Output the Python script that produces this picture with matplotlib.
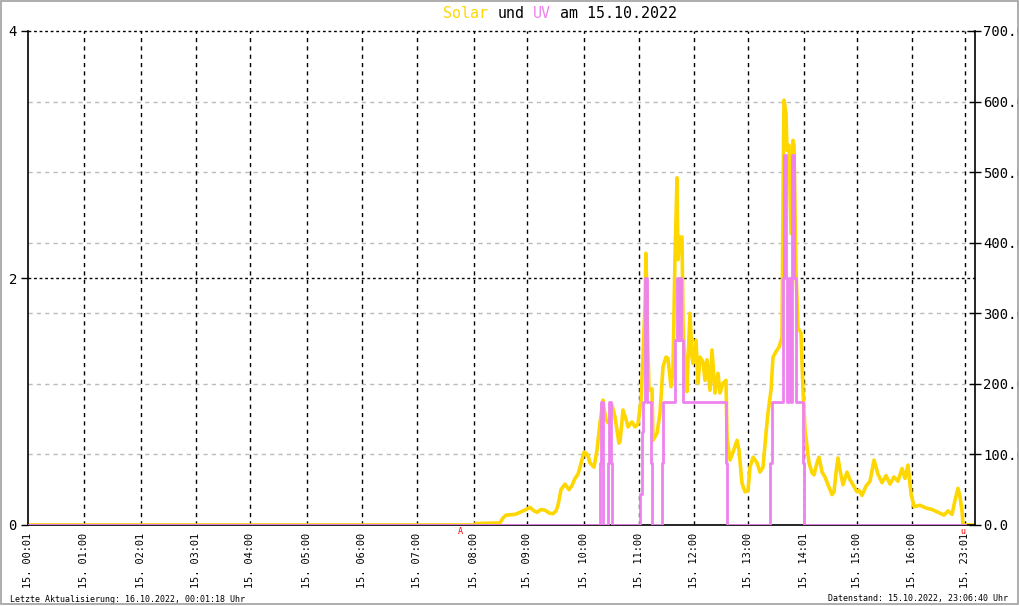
import matplotlib
matplotlib.use("Agg")
import matplotlib.pyplot as plt
from matplotlib.patches import Rectangle

# x = Messwert-Index (Achse ist nicht zeitlinear, Luecke 16-23 Uhr)
tick_idx = [0, 56, 113, 168, 222, 279, 334, 389, 446, 499, 556, 611, 666, 720, 776, 829, 884, 937]
tick_labels = ["15. 00:01", "15. 01:00", "15. 02:01", "15. 03:01", "15. 04:00", "15. 05:00",
               "15. 06:00", "15. 07:00", "15. 08:00", "15. 09:00", "15. 10:00", "15. 11:00",
               "15. 12:00", "15. 13:00", "15. 14:01", "15. 15:00", "15. 16:00", "15. 23:01"]

solar_idx = [0, 446, 448, 472, 475, 478, 487, 492, 498, 502, 506, 509, 513, 517, 521, 525, 528,
             530, 533, 537, 541, 544, 547, 550, 552, 556, 558, 560, 562, 566, 569, 572, 575, 576,
             578, 580, 582, 584, 587, 591, 592, 595, 599, 600, 604, 607, 610, 613, 615, 617, 618,
             619, 621, 624, 625, 629, 632, 635, 638, 640, 643, 645, 647, 649, 650, 652, 654, 655,
             657, 659, 660, 662, 664, 665, 668, 670, 672, 675, 677, 679, 682, 684, 687, 690, 692,
             695, 698, 699, 702, 705, 709, 711, 714, 717, 720, 722, 725, 729, 732, 735, 738, 740,
             743, 745, 749, 751, 754, 755, 756, 758, 759, 761, 763, 765, 766, 768, 770, 773, 775,
             777, 779, 781, 784, 786, 789, 791, 794, 797, 800, 804, 806, 808, 810, 812, 815, 819,
             822, 825, 829, 831, 834, 838, 842, 846, 850, 854, 858, 862, 866, 870, 874, 877, 880,
             883, 886, 892, 898, 904, 910, 916, 920, 924, 927, 930, 932, 934, 935, 947]
solar_wm2 = [0, 0, 2, 3, 10, 14, 15, 18, 22, 25, 20, 18, 22, 21, 17, 16, 20,
             28, 50, 58, 50, 56, 66, 72, 82, 103, 102, 98, 88, 82, 106, 145, 177, 165,
             149, 145, 150, 170, 153, 116, 118, 163, 145, 139, 146, 139, 143, 177, 238, 312, 385,
             300, 191, 193, 120, 130, 159, 224, 238, 236, 196, 220, 380, 492, 376, 408, 408, 286,
             224, 189, 234, 300, 238, 229, 262, 201, 238, 231, 205, 234, 191, 248, 187, 215, 187,
             201, 205, 125, 92, 103, 120, 106, 59, 47, 49, 82, 96, 88, 75, 82, 130, 159,
             191, 238, 248, 252, 266, 463, 602, 583, 531, 538, 413, 545, 538, 361, 279, 272, 191,
             135, 111, 88, 74, 71, 88, 96, 75, 68, 57, 43, 47, 74, 95, 78, 57, 75,
             64, 57, 47, 49, 42, 55, 62, 92, 72, 60, 70, 58, 68, 62, 80, 66, 85,
             45, 26, 28, 24, 22, 18, 14, 20, 15, 35, 52, 40, 20, 0, 0]

uv_idx = [0, 572, 573, 575, 580, 581, 583, 584, 612, 614, 615, 617, 619, 623, 624, 634, 635,
          647, 649, 650, 652, 653, 655, 698, 699, 742, 744, 755, 756, 758, 759, 761, 763, 764,
          766, 768, 775, 776, 937]
uv_val = [0, 0.5, 1.0, 0, 0.5, 1.0, 0.5, 0, 0.25, 0.75, 1.0, 2.0, 1.0, 0.5, 0, 0.5, 1.0,
          1.5, 2.0, 1.5, 2.0, 1.5, 1.0, 0.5, 0, 0.5, 1.0, 2.0, 3.0, 2.0, 1.0, 2.0, 1.0, 3.0,
          2.0, 1.0, 0.5, 0, 0]

solar_col = "#FFD700"
uv_col = "#EE82EE"
mono = "DejaVu Sans Mono"
plt.rcParams["font.family"] = mono

W, H = 1020, 606
fig = plt.figure(figsize=(W / 100, H / 100), dpi=100)
ax2 = fig.add_axes([28 / W, (H - 525) / H, 947 / W, 494 / H])
ax = ax2.twinx()
ax2.yaxis.tick_right()
ax.yaxis.tick_left()
ax.set_zorder(ax2.get_zorder() + 1)
ax.patch.set_visible(False)
ax.xaxis.set_visible(True)
ax2.xaxis.set_visible(False)

ax.set_xlim(0, 947)
ax.set_ylim(0, 4)
ax2.set_ylim(0, 700)

# Gitter
for v in range(100, 700, 100):
    if v != 350:
        ax2.axhline(v, color="#bbbbbb", lw=1, ls=(0, (3, 3)), zorder=0)
for v in [350, 700]:
    ax2.axhline(v, color="black", lw=1, ls=(0, (2, 2)), zorder=0, clip_on=False)
for t in tick_idx[1:]:
    ax2.axvline(t, color="black", lw=1, ls=(0, (3, 3)), zorder=0)

ax2.plot(solar_idx, solar_wm2, color=solar_col, lw=2.6, zorder=2)
ax.step(uv_idx, uv_val, where="post", color=uv_col, lw=2.0, zorder=3)

for s in ["top", "right"]:
    ax.spines[s].set_visible(False)
for s in ["top", "left", "bottom"]:
    ax2.spines[s].set_visible(False)
ax.spines["left"].set_linewidth(1.2)
ax.spines["bottom"].set_linewidth(1.2)
ax2.spines["right"].set_linewidth(1.2)

ax.set_yticks([0, 2, 4], ["0", "2", "4"])
ax.tick_params(axis="y", length=5, width=1, pad=3, labelsize=10)
ax2.set_yticks(range(0, 701, 100), [f"{v:.1f}" for v in range(0, 701, 100)])
ax2.tick_params(axis="y", direction="inout", length=8, width=1, pad=2, labelsize=10)
ax.set_xticks(tick_idx, tick_labels, rotation=90)
ax.tick_params(axis="x", length=0, pad=6, labelsize=7.4)

# Titel
x0 = 443
cw = 9.03
for col, txt, c in [(0, "Solar", solar_col), (6, "und", "black"), (10, "UV", uv_col), (13, "am 15.10.2022", "black")]:
    fig.text((x0 + col * cw) / W, 1 - 13 / H, txt, color=c, fontsize=10.8, ha="left", va="center")

fig.text(10 / W, 1 - 599 / H, "Letzte Aktualisierung: 16.10.2022, 00:01:18 Uhr", fontsize=6, va="center")
fig.text(1008 / W, 1 - 599 / H, "Datenstand: 15.10.2022, 23:06:40 Uhr", fontsize=6, va="center", ha="right")
fig.text(460 / W, 1 - 531 / H, "A", color="red", fontsize=6, ha="center", va="center")
fig.text(963 / W, 1 - 531 / H, "u", color="red", fontsize=6, ha="center", va="center")

# Rahmen
fig.add_artist(Rectangle((1018 / W, 0), 2 / W, 1, transform=fig.transFigure, facecolor="white", edgecolor="none", zorder=20))
fig.add_artist(Rectangle((0.5 / W, 2 / H), 1017.5 / W, (H - 2.5) / H, transform=fig.transFigure,
                         facecolor="none", edgecolor="#a0a0a0", lw=1.2, zorder=21))

fig.savefig("out.png", dpi=100)
